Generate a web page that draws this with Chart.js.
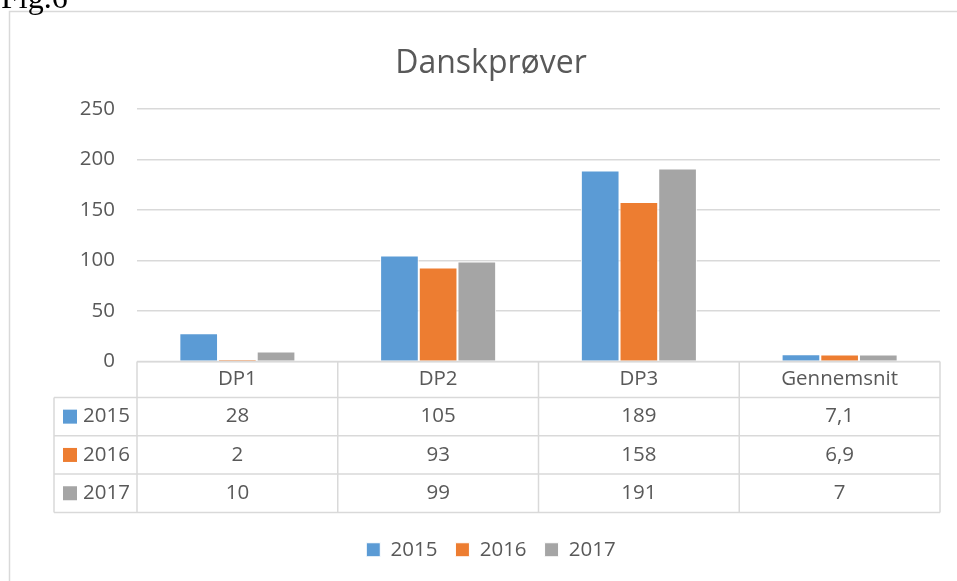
<!DOCTYPE html>
<html>
<head>
<meta charset="utf-8">
<script src="https://cdn.jsdelivr.net/npm/chart.js@4/dist/chart.umd.min.js"></script>
<style>
  html, body { margin: 0; padding: 0; background: #fff; overflow: hidden; }
  #wrap { position: relative; width: 957px; height: 581px; }
</style>
</head>
<body>
<div id="wrap"><canvas id="chart" width="957" height="581"></canvas></div>
<script>
const categories = ['DP1', 'DP2', 'DP3', 'Gennemsnit'];
const values2015 = [28, 105, 189, 7.1];
const values2016 = [2, 93, 158, 6.9];
const values2017 = [10, 99, 191, 7];
const yMin = 0;
const yMax = 250;
const yStep = 50;

const textColor = '#595959';
const lineColor = '#D9D9D9';
const fontFamily = '"Open Sans", "Noto Sans", sans-serif';
const fontSize = 20.5;

function fmt(v) {
    return String(v).replace('.', ',');
}

// page frame and the cut-off caption above the chart
const framePlugin = {
    id: 'frame',
    beforeDraw(chart) {
        const ctx = chart.ctx;
        ctx.save();
        ctx.fillStyle = '#fff';
        ctx.fillRect(0, 0, chart.width, chart.height);
        ctx.strokeStyle = lineColor;
        ctx.lineWidth = 1.5;
        ctx.strokeRect(9.5, 11.5, 990, 600);
        ctx.fillStyle = '#000';
        ctx.font = '32px "Liberation Serif", serif';
        ctx.textBaseline = 'alphabetic';
        ctx.textAlign = 'left';
        ctx.fillText('Fig.6', 1, 8);
        ctx.restore();
    }
};

// data table under the plot, drawn from the datasets
const tablePlugin = {
    id: 'dataTable',
    afterDraw(chart) {
        const {ctx, chartArea, scales: {x}} = chart;
        const labels = chart.data.labels;
        const sets = chart.data.datasets;
        const colW = (chartArea.right - chartArea.left) / labels.length;
        const top = chartArea.bottom;
        const headerH = 36;
        const rowH = 38.3;
        const keyLeft = 54;
        const bottom = top + headerH + rowH * sets.length;

        ctx.save();
        ctx.strokeStyle = lineColor;
        ctx.lineWidth = 1.5;
        ctx.beginPath();
        ctx.moveTo(chartArea.left, top);
        ctx.lineTo(chartArea.right, top);
        for (let r = 0; r <= sets.length; r++) {
            const y = top + headerH + r * rowH;
            ctx.moveTo(keyLeft, y);
            ctx.lineTo(chartArea.right, y);
        }
        ctx.moveTo(keyLeft, top + headerH);
        ctx.lineTo(keyLeft, bottom);
        for (let c = 0; c <= labels.length; c++) {
            const xx = chartArea.left + c * colW;
            ctx.moveTo(xx, top);
            ctx.lineTo(xx, bottom);
        }
        ctx.stroke();

        ctx.font = fontSize + 'px ' + fontFamily;
        ctx.textBaseline = 'middle';
        ctx.fillStyle = textColor;
        ctx.textAlign = 'center';
        labels.forEach((lab, i) => {
            ctx.fillText(lab, x.getPixelForValue(i), top + headerH / 2);
        });
        sets.forEach((ds, r) => {
            const cy = top + headerH + r * rowH + rowH / 2;
            ctx.fillStyle = textColor;
            ctx.textAlign = 'center';
            ds.data.forEach((v, i) => {
                ctx.fillText(fmt(v), x.getPixelForValue(i), cy);
            });
            ctx.fillStyle = ds.backgroundColor;
            ctx.fillRect(63, cy - 7, 14, 14);
            ctx.fillStyle = textColor;
            ctx.textAlign = 'left';
            ctx.fillText(ds.label, 83, cy);
        });
        ctx.restore();
    }
};

const ctx = document.getElementById('chart').getContext('2d');
new Chart(ctx, {
    type: 'bar',
    data: {
        labels: categories,
        datasets: [
            { label: '2015', data: values2015, backgroundColor: '#5B9BD5', borderColor: '#fff', borderWidth: 1 },
            { label: '2016', data: values2016, backgroundColor: '#ED7D31', borderColor: '#fff', borderWidth: 1 },
            { label: '2017', data: values2017, backgroundColor: '#A5A5A5', borderColor: '#fff', borderWidth: 1 }
        ]
    },
    options: {
        responsive: false,
        animation: false,
        datasets: {
            bar: { categoryPercentage: 0.578, barPercentage: 1 }
        },
        layout: {
            padding: { left: 42, right: 17, top: 0, bottom: 11 }
        },
        plugins: {
            title: {
                display: true,
                text: 'Danskprøver',
                color: textColor,
                font: { family: fontFamily, size: 32, weight: 'normal' },
                padding: { top: 45, bottom: 25.6 }
            },
            legend: {
                position: 'bottom',
                labels: {
                    boxWidth: 14,
                    boxHeight: 14,
                    padding: 18,
                    color: textColor,
                    font: { family: fontFamily, size: fontSize }
                }
            },
            tooltip: { enabled: false }
        },
        scales: {
            x: {
                grid: { display: false },
                border: { display: false },
                ticks: { display: false },
                afterFit(scale) { scale.height = 160; }
            },
            y: {
                min: yMin,
                max: yMax,
                grid: { color: lineColor, lineWidth: 1.5, drawTicks: false },
                border: { display: false },
                ticks: {
                    stepSize: yStep,
                    padding: 22,
                    color: textColor,
                    font: { family: fontFamily, size: fontSize }
                },
                afterFit(scale) { scale.width = 95; }
            }
        }
    },
    plugins: [framePlugin, tablePlugin]
});
</script>
</body>
</html>
